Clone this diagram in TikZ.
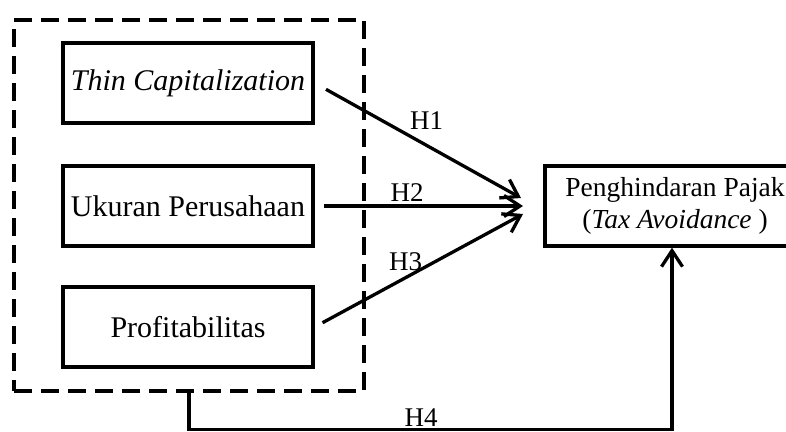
\documentclass[tikz,border=0pt]{standalone}
\usepackage{fontspec}
\setmainfont{Liberation Serif}
\usetikzlibrary{arrows.meta}
\begin{document}
\begin{tikzpicture}[x=1pt,y=-1pt,
  varbox/.style={draw, line width=3.3pt, inner sep=0pt, minimum width=250pt, minimum height=80pt, font=\fontsize{30}{34}\selectfont},
  tgtbox/.style={draw, line width=3.3pt, inner sep=0pt, minimum width=260pt, minimum height=80pt, align=center, font=\fontsize{27.5}{32}\selectfont},
  grpbox/.style={draw, line width=3.6pt, dash pattern=on 18pt off 9pt, inner sep=0pt, minimum width=350pt, minimum height=371pt},
  arr/.style={line width=3.3pt, -{Straight Barb[length=16pt,width=21pt]}},
  hlab/.style={anchor=base, inner sep=0pt, font=\fontsize{27}{30}\selectfont}]
\useasboundingbox (0,0) rectangle (786,431);
\clip (0,0) rectangle (786,431);
\node[grpbox] (grp) at (189,205.5) {};
\node[varbox] (tc) at (188,83) {\textit{Thin Capitalization}};
\node[varbox] (up) at (188,206) {Ukuran Perusahaan};
\node[varbox] (pf) at (188,327) {Profitabilitas};
\node[tgtbox] (tgt) at (675,206) {Penghindaran Pajak\\(\textit{Tax Avoidance })};
\coordinate (e1) at (521,198);
\coordinate (e2) at (523,206);
\coordinate (e3) at (523,214);
\coordinate (c4) at (672,429.5);
\draw[arr, shorten <=13pt] (tc.east) -- (e1);
\draw[arr, shorten <=9pt] (up.east) -- (e2);
\draw[arr, shorten <=9pt] (pf.east) -- (e3);
\draw[arr] (grp.south) |- (c4) -- (tgt.south -| c4);
\node[hlab] (h1) at (426.5,129) {H1};
\node[hlab] (h2) at (407,201) {H2};
\node[hlab] (h3) at (405.5,270) {H3};
\node[hlab] (h4) at (421,426) {H4};
\end{tikzpicture}
\end{document}
